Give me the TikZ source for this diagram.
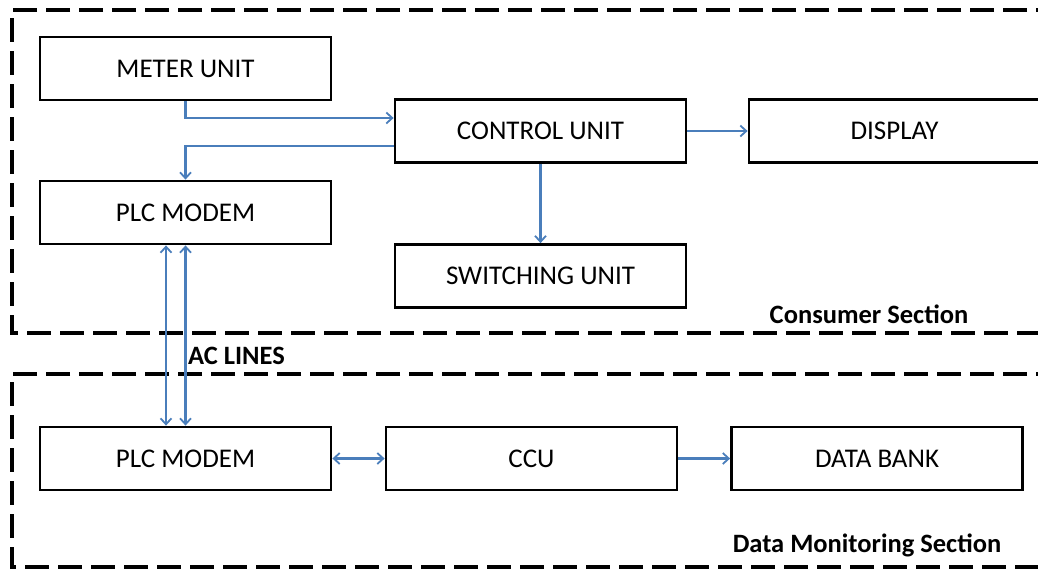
\documentclass[tikz,border=0pt]{standalone}
\usepackage{fontspec}
\setmainfont{Carlito}
\usetikzlibrary{arrows.meta}
\definecolor{arrowblue}{RGB}{74,126,187}
\tikzset{
  blk/.style={draw=black, line width=2.8pt, minimum width=291pt, minimum height=63pt, inner sep=0pt, font=\fontsize{27}{32}\selectfont},
  sect/.style={draw=black, line width=3.5pt, dash pattern=on 24pt off 9pt},
  arr/.style={draw=arrowblue, line width=2.2pt, -{Straight Barb[length=6pt,width=11pt,line width=1.8pt]}},
  arrb/.style={draw=arrowblue, line width=2.2pt, {Straight Barb[length=6pt,width=11pt,line width=1.8pt]}-{Straight Barb[length=6pt,width=11pt,line width=1.8pt]}},
  lbl/.style={font=\fontsize{26.5}{31}\selectfont\bfseries, inner sep=0pt}
}
\begin{document}
\begin{tikzpicture}[x=1pt,y=-1pt]
\useasboundingbox (0,0) rectangle (1038,571);
\clip (0,0) rectangle (1038,571);
\fill[white] (0,0) rectangle (1038,571);
% section frames
\draw[sect] (1060,10) -- (12,10) -- (12,333) -- (1060,333);
\draw[sect] (1060,374) -- (12,374) -- (12,567) -- (1060,567);
% blocks
\node[blk] (meter) at (185.5,68.5) {METER UNIT};
\node[blk] (control) at (540.5,131) {CONTROL UNIT};
\node[blk] (display) at (894.5,131) {DISPLAY};
\node[blk] (plcA) at (185.5,212.5) {PLC MODEM};
\node[blk] (switch) at (540.5,276) {SWITCHING UNIT};
\node[blk] (plcB) at (185.5,458.5) {PLC MODEM};
\node[blk] (ccu) at (531.5,458.5) {CCU};
\node[blk] (bank) at (877,458.5) {DATA BANK};
% labels
\node[lbl, anchor=base west] (ac) at (188,364) {AC LINES};
\node[lbl, anchor=base] (cons) at (869,323) {Consumer Section};
\node[lbl, anchor=base] (dms) at (867,552) {Data Monitoring Section};
% connectors
\draw[arr] (meter.south) |- ([yshift=13pt]control.west);
\draw[arr] ([yshift=-15pt]control.west) -| (plcA.north);
\draw[arrb] ([xshift=-19.5pt]plcA.south) -- ([xshift=-19.5pt]plcB.north);
\draw[arrb] (plcA.south) -- (plcB.north);
\draw[arr] (control.east) -- (display.west);
\draw[arr] (control.south) -- (switch.north);
\draw[arrb] (plcB.east) -- (ccu.west);
\draw[arr] (ccu.east) -- (bank.west);
\end{tikzpicture}
\end{document}
